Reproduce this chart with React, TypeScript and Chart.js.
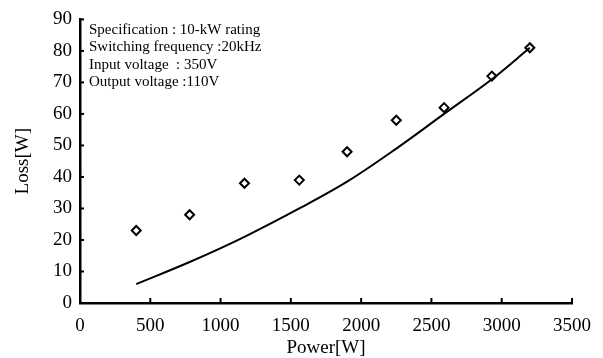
import React, { useEffect, useRef } from "react";
import { Chart, registerables } from "chart.js";

Chart.register(...registerables);

const measuredPower = [400, 780, 1170, 1560, 1900, 2250, 2590, 2930, 3200];
const measuredLoss = [23, 28, 38, 39, 48, 58, 62, 72, 81];
const calcPower = [400, 780, 1170, 1560, 1900, 2250, 2590, 2930, 3200];
const calcLoss = [6, 13, 21, 30, 38.5, 49, 60, 71, 81];
const xTicks = [0, 500, 1000, 1500, 2000, 2500, 3000, 3500];
const yTicks = [0, 10, 20, 30, 40, 50, 60, 70, 80, 90];
const noteLines = [
  "Specification : 10-kW rating",
  "Switching frequency :20kHz",
  "Input voltage  : 350V",
  "Output voltage :110V",
];

const SERIF = '"Liberation Serif", "Times New Roman", serif';

export default function App() {
  const ref = useRef<HTMLCanvasElement | null>(null);

  useEffect(() => {
    document.body.style.margin = "0";
    const canvas = ref.current;
    if (!canvas) return;

    const inwardTicks = {
      id: "inwardTicks",
      afterDraw(chart: any) {
        const { ctx, chartArea, scales } = chart;
        ctx.save();
        ctx.strokeStyle = "#000";
        ctx.lineWidth = 2;
        xTicks.forEach((v) => {
          const px = scales.x.getPixelForValue(v);
          ctx.beginPath();
          ctx.moveTo(px, chartArea.bottom);
          ctx.lineTo(px, chartArea.bottom - 5);
          ctx.stroke();
        });
        yTicks.forEach((v) => {
          const py = scales.y.getPixelForValue(v);
          ctx.beginPath();
          ctx.moveTo(chartArea.left, py);
          ctx.lineTo(chartArea.left + 4, py);
          ctx.stroke();
        });
        ctx.fillStyle = "#000";
        ctx.font = "15px " + SERIF;
        ctx.textAlign = "left";
        ctx.textBaseline = "alphabetic";
        noteLines.forEach((t, i) => {
          ctx.fillText(t, chartArea.left + 9, 33.5 + i * 17.5);
        });
        ctx.restore();
      },
    };

    const chart = new Chart(canvas, {
      type: "scatter",
      data: {
        datasets: [
          {
            type: "line",
            data: calcPower.map((x, i) => ({ x, y: calcLoss[i] })),
            borderColor: "#000",
            borderWidth: 2,
            pointRadius: 0,
            tension: 0.35,
            fill: false,
          } as any,
          {
            data: measuredPower.map((x, i) => ({ x, y: measuredLoss[i] })),
            pointStyle: "rectRot",
            pointRadius: 4.5,
            pointBorderWidth: 2,
            pointBorderColor: "#000",
            pointBackgroundColor: "#fff",
          },
        ],
      },
      options: {
        responsive: false,
        animation: false,
        layout: { padding: { left: 0, right: 30, top: 14, bottom: 0 } },
        plugins: { legend: { display: false }, tooltip: { enabled: false } },
        scales: {
          x: {
            type: "linear",
            min: 0,
            max: 3500,
            afterBuildTicks: (s: any) => {
              s.ticks = xTicks.map((v) => ({ value: v }));
            },
            afterFit: (s: any) => {
              s.height = 55;
            },
            grid: { display: false, drawTicks: false },
            border: { display: true, color: "#000", width: 2.5 },
            ticks: {
              color: "#000",
              font: { family: SERIF, size: 19 },
              padding: 12,
              maxRotation: 0,
              callback: (v: any) => String(v),
            },
            title: {
              display: true,
              text: "Power[W]",
              color: "#000",
              font: { family: SERIF, size: 19, lineHeight: 1 },
              padding: 0,
            },
          },
          y: {
            type: "linear",
            min: 0,
            max: 90,
            afterBuildTicks: (s: any) => {
              s.ticks = yTicks.map((v) => ({ value: v }));
            },
            afterFit: (s: any) => {
              s.width = 80;
            },
            grid: { display: false, drawTicks: false },
            border: { display: true, color: "#000", width: 2.5 },
            ticks: {
              color: "#000",
              font: { family: SERIF, size: 19 },
              padding: 8,
              callback: (v: any) => String(v),
            },
            title: {
              display: true,
              text: "Loss[W]",
              color: "#000",
              font: { family: SERIF, size: 19, lineHeight: 1 },
              padding: { top: 14, bottom: 0 },
            },
          },
        },
      },
      plugins: [inwardTicks],
    });

    return () => chart.destroy();
  }, []);

  return (
    <div style={{ position: "absolute", left: 0, top: 0, width: 603, height: 358, background: "#fff" }}>
      <canvas ref={ref} width={603} height={358} />
    </div>
  );
}
